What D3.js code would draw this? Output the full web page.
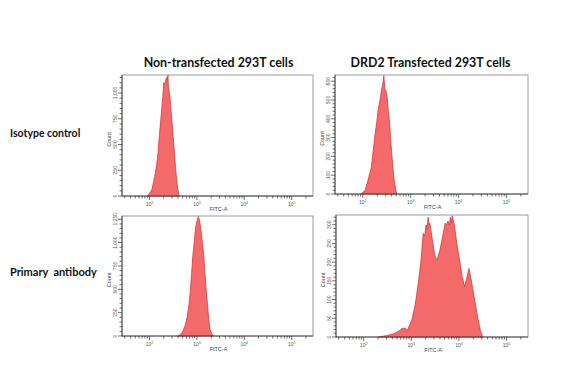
<!DOCTYPE html>
<html>
<head>
<meta charset="utf-8">
<script src="https://cdn.jsdelivr.net/npm/d3@7"></script>
<style>
  html, body { margin: 0; padding: 0; background: #fff; }
  svg { display: block; }
</style>
</head>
<body>
<svg id="chart" width="582" height="378"></svg>
<script>
// ---- data (x values are log10 of FITC-A intensity, y values are event counts) ----
const columnTitles = ["Non-transfected 293T cells", "DRD2 Transfected 293T cells"];
const rowTitles = ["Isotype control", "Primary\u00a0\u00a0antibody"];
const xTickExponents = [2, 3, 4, 5];

const isoNonLog   = [1.96, 2.05, 2.11, 2.15, 2.18, 2.21, 2.25, 2.28, 2.30, 2.33, 2.355, 2.37, 2.39, 2.40, 2.43, 2.46, 2.50, 2.53, 2.555, 2.58, 2.60, 2.625];
const isoNonCount = [0, 60, 190, 300, 420, 600, 800, 960, 1100, 1090, 1150, 1120, 1175, 1060, 970, 800, 580, 400, 250, 130, 60, 0];

const isoDrdLog   = [1.96, 2.05, 2.11, 2.18, 2.25, 2.29, 2.32, 2.36, 2.39, 2.42, 2.44, 2.46, 2.48, 2.51, 2.53, 2.555, 2.58, 2.605, 2.63, 2.655, 2.69, 2.71];
const isoDrdCount = [0, 20, 74, 145, 305, 380, 447, 500, 553, 590, 630, 560, 553, 518, 450, 394, 300, 216, 140, 74, 20, 0];

const priNonLog   = [2.60, 2.65, 2.70, 2.75, 2.79, 2.83, 2.86, 2.89, 2.915, 2.945, 2.97, 3.00, 3.03, 3.06, 3.09, 3.12, 3.145, 3.17, 3.20, 3.23, 3.255, 3.28, 3.31, 3.355];
const priNonCount = [0, 15, 46, 110, 190, 320, 474, 680, 865, 1010, 1150, 1230, 1280, 1230, 1115, 990, 865, 680, 474, 300, 153, 70, 28, 0];

const priDrdLog   = [2.31, 2.49, 2.63, 2.73, 2.80, 2.87, 2.92, 2.96, 3.01, 3.08, 3.15, 3.20, 3.25, 3.28, 3.31, 3.33, 3.355, 3.37, 3.39, 3.45, 3.49, 3.54, 3.60, 3.65, 3.71, 3.74, 3.77, 3.80, 3.82, 3.84, 3.86, 3.91, 3.96, 4.02, 4.07, 4.12, 4.17, 4.21, 4.26, 4.29, 4.35, 4.40, 4.45, 4.50];
const priDrdCount = [0, 4, 9, 15, 22, 24, 18, 31, 45, 85, 147, 200, 277, 270, 299, 290, 320, 300, 304, 254, 219, 205, 232, 263, 304, 300, 310, 300, 320, 305, 324, 295, 246, 200, 161, 134, 161, 183, 152, 129, 85, 49, 18, 0];

const yMaxes   = [1175, 633, 1285, 326];
const yMajor   = [250, 100, 250, 50];
const yMinor   = [50, 20, 50, 10];

// ---- layout ----
const panels = [
  { x0: 122, x1: 313, y0: 75,  y1: 196, log: isoNonLog, cnt: isoNonCount },
  { x0: 335, x1: 528, y0: 75,  y1: 194, log: isoDrdLog, cnt: isoDrdCount },
  { x0: 122, x1: 313, y0: 216, y1: 336, log: priNonLog, cnt: priNonCount },
  { x0: 336, x1: 528, y0: 215, y1: 337, log: priDrdLog, cnt: priDrdCount }
];
const xDomain = [Math.pow(10, 1.42), Math.pow(10, 5.45)];

const svg = d3.select("#chart");
const smallFont = "'Liberation Sans', Arial, sans-serif";
const titleFont = "Lato, 'Open Sans', sans-serif";

// column titles
svg.selectAll("text.coltitle").data(columnTitles).join("text")
  .attr("class", "coltitle")
  .attr("x", (d, i) => i === 0 ? 218.5 : 430.5)
  .attr("y", 67)
  .attr("text-anchor", "middle")
  .attr("font-family", titleFont)
  .attr("font-weight", "bold")
  .attr("font-size", 12.4)
  .attr("fill", "#111")
  .text(d => d);

// row titles
svg.selectAll("text.rowtitle").data(rowTitles).join("text")
  .attr("class", "rowtitle")
  .attr("x", 10)
  .attr("y", (d, i) => i === 0 ? 137 : 276)
  .attr("font-family", titleFont)
  .attr("font-weight", "bold")
  .attr("font-size", (d, i) => i === 0 ? 10.5 : 11)
  .attr("fill", "#111")
  .text(d => d);

panels.forEach((p, i) => {
  const g = svg.append("g");
  const x = d3.scaleLog().domain(xDomain).range([p.x0, p.x1]);
  const y = d3.scaleLinear().domain([0, yMaxes[i]]).range([p.y1, p.y0]);

  // frame
  g.append("rect")
    .attr("x", p.x0).attr("y", p.y0)
    .attr("width", p.x1 - p.x0).attr("height", p.y1 - p.y0)
    .attr("fill", "none").attr("stroke", "#9a9a9a").attr("stroke-width", 1);

  // histogram
  const pts = p.log.map((l, k) => [Math.pow(10, l), p.cnt[k]]);
  const area = d3.area().x(d => x(d[0])).y0(y(0)).y1(d => y(d[1]));
  g.append("path").datum(pts)
    .attr("d", area)
    .attr("fill", "#f46a6a")
    .attr("stroke", "#cf2e2e")
    .attr("stroke-width", 0.7)
    .attr("stroke-linejoin", "round");

  // x axis minor/major ticks
  const allTicks = x.ticks();
  const gx = g.append("g").attr("transform", `translate(0,${p.y1})`);
  gx.append("line").attr("x1", p.x0).attr("x2", p.x1).attr("stroke", "#333").attr("stroke-width", 0.8);
  gx.selectAll("line.t").data(allTicks).join("line")
    .attr("class", "t")
    .attr("x1", d => x(d)).attr("x2", d => x(d))
    .attr("y1", 0)
    .attr("y2", d => Math.abs(Math.log10(d) - Math.round(Math.log10(d))) < 1e-6 ? 4 : 2.5)
    .attr("stroke", "#333").attr("stroke-width", 0.7);
  const lab = gx.selectAll("text.xl").data(xTickExponents).join("text")
    .attr("class", "xl")
    .attr("x", d => x(Math.pow(10, d)))
    .attr("y", 10)
    .attr("text-anchor", "middle")
    .attr("font-family", smallFont)
    .attr("font-size", 5)
    .attr("fill", "#555");
  lab.append("tspan").text("10");
  lab.append("tspan").attr("dy", -2.5).attr("font-size", 3.5).text(d => d);
  gx.append("text")
    .attr("x", (p.x0 + p.x1) / 2 + 1)
    .attr("y", 15)
    .attr("text-anchor", "middle")
    .attr("font-family", smallFont)
    .attr("font-size", 5.5)
    .attr("fill", "#444")
    .text("FITC-A");

  // y axis
  const gy = g.append("g").attr("transform", `translate(${p.x0},0)`);
  gy.append("line").attr("y1", p.y0).attr("y2", p.y1).attr("stroke", "#333").attr("stroke-width", 0.8);
  const minorTicks = d3.range(0, yMaxes[i] + 0.001, yMinor[i]);
  gy.selectAll("line.t").data(minorTicks).join("line")
    .attr("class", "t")
    .attr("y1", d => y(d)).attr("y2", d => y(d))
    .attr("x1", d => d % yMajor[i] === 0 ? -4 : -2.5).attr("x2", 0)
    .attr("stroke", "#333").attr("stroke-width", 0.7);
  const majorTicks = d3.range(0, yMaxes[i] - yMajor[i] * 0.1, yMajor[i]);
  gy.selectAll("text.yl").data(majorTicks).join("text")
    .attr("class", "yl")
    .attr("transform", d => `translate(-5.5,${y(d)}) rotate(-90)`)
    .attr("text-anchor", "middle")
    .attr("font-family", smallFont)
    .attr("font-size", 5)
    .attr("fill", "#555")
    .text(d => d3.format(",")(d));
  gy.append("text")
    .attr("transform", `translate(-11,${(p.y0 + p.y1) / 2 + 4}) rotate(-90)`)
    .attr("text-anchor", "middle")
    .attr("font-family", smallFont)
    .attr("font-size", 5.5)
    .attr("fill", "#444")
    .text("Count");
});
</script>
</body>
</html>
